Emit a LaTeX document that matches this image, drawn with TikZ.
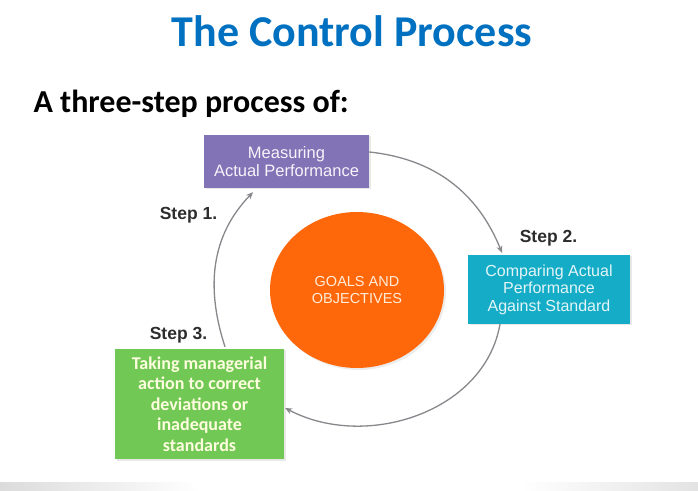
\documentclass[tikz,border=0pt]{standalone}
\usepackage{fontspec}
\setmainfont{Liberation Sans}
\newfontfamily\calibri{Carlito}
\usetikzlibrary{arrows.meta,shapes.geometric,shadows}

\definecolor{titleblue}{RGB}{0,112,192}
\definecolor{measfill}{RGB}{130,114,182}
\definecolor{compfill}{RGB}{20,172,198}
\definecolor{corrfill}{RGB}{114,200,84}
\definecolor{goalfill}{RGB}{255,104,10}
\definecolor{arrowgray}{RGB}{135,135,140}
\definecolor{labelgray}{RGB}{45,45,45}

\begin{document}
\begin{tikzpicture}[x=1pt,y=1pt,
  stepbox/.style={rectangle, inner sep=0pt, align=center,
    drop shadow={opacity=.18, shadow xshift=1.5pt, shadow yshift=-1.5pt}},
  steplabel/.style={font=\fontsize{17.5}{19}\selectfont\bfseries, text=labelgray},
  cyc/.style={draw=arrowgray, line width=1.3pt, -{Stealth[length=7pt,width=6pt]}}]
  \useasboundingbox (0,0) rectangle (698,490);
  % grey strip along the bottom
  \shade[left color=gray!28, right color=white] (0,0) rectangle (200,8);
  \shade[left color=white, right color=gray!22] (520,0) rectangle (698,8);

  \node[anchor=base] (title) at (352,443) {\calibri\bfseries\fontsize{44}{48}\selectfont\color{titleblue}The Control Process};
  \node[anchor=base west] (intro) at (30,377) {\calibri\bfseries\fontsize{32}{36}\selectfont A three-step process of:};

  \node[ellipse, fill=goalfill, minimum width=174, minimum height=156, align=center,
    text=orange!15, font=\fontsize{14.5}{17}\selectfont,
    drop shadow={opacity=.15, shadow xshift=2pt, shadow yshift=-2pt}]
    (goals) at (357,200) {GOALS AND\\OBJECTIVES};

  \node[stepbox, fill=measfill, minimum width=165, minimum height=53,
    text=white!92!measfill, font=\fontsize{16.5}{18}\selectfont]
    (meas) at (286.5,328.5) {Measuring\\Actual Performance};
  \node[stepbox, fill=compfill, minimum width=162, minimum height=69,
    text=white!88!compfill, font=\fontsize{16}{17.5}\selectfont]
    (comp) at (549,200.5) {Comparing Actual\\Performance\\Against Standard};
  \node[stepbox, fill=corrfill, minimum width=169, minimum height=110,
    text=yellow!12, font=\calibri\bfseries\fontsize{18}{20.5}\selectfont]
    (corr) at (199.5,86) {Taking managerial\\action to correct\\deviations or\\inadequate\\standards};

  \node[steplabel] (s1) at (188.5,275) {Step 1.};
  \node[steplabel] (s2) at (548.5,252) {Step 2.};
  \node[steplabel] (s3) at (178.5,155) {Step 3.};

  % the cycle
  \draw[cyc] ([yshift=9.5pt]meas.east) to[out=-6, in=112] ([xshift=-47pt,yshift=2pt]comp.north);
  \draw[cyc] ([xshift=-49pt]comp.south) to[out=-100, in=-28] ([xshift=1pt,yshift=-4pt]corr.east);
  \draw[cyc] ([xshift=25.5pt,yshift=2pt]corr.north) to[out=108, in=-134] ([xshift=-33.5pt,yshift=-4pt]meas.south);
\end{tikzpicture}
\end{document}
